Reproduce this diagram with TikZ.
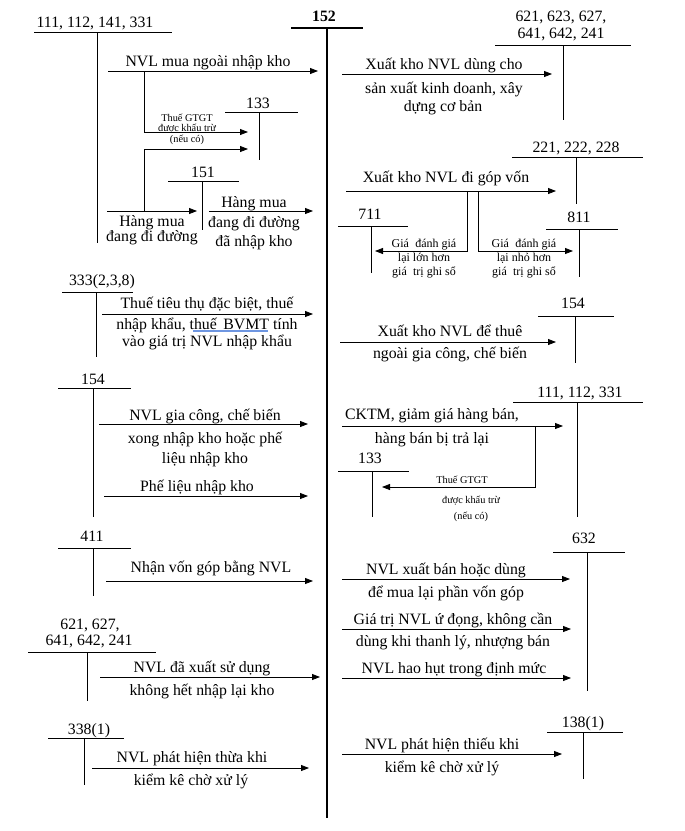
\documentclass[tikz,border=0pt]{standalone}
\usepackage{fontspec}
\setmainfont{Liberation Serif}
\usetikzlibrary{arrows.meta}
\newcommand\fmain{\fontsize{15.8}{18}\selectfont}
\newcommand\fsmall{\fontsize{10.3}{12}\selectfont}
\newcommand\fmid{\fontsize{12}{14}\selectfont}
\newcommand\tacc[6]{%
  \coordinate (#1l) at (#2,#4); \coordinate (#1r) at (#3,#4);
  \coordinate (#1t) at (#5,#4); \coordinate (#1b) at (#5,#6);
  \draw[acct] (#1l) -- (#1r) (#1t) -- (#1b);}
\begin{document}
\begin{tikzpicture}[x=1pt,y=-1pt,
  acct/.style={line width=0.8pt},
  mainacc/.style={line width=2.6pt},
  flow/.style={line width=0.8pt,-{Triangle[length=8pt,width=6pt]}},
  txt/.style={anchor=base,inner sep=0pt,font=\fmain},
  sm/.style={anchor=base,inner sep=0pt,font=\fsmall},
  md/.style={anchor=base,inner sep=0pt,font=\fmid}]
\useasboundingbox[fill=white] (0,0) rectangle (685,831);

% main account 152
\node[txt] (n152) at (324,21) {\textbf{152}};
\coordinate (m1) at (291,28); \coordinate (m2) at (363,28);
\coordinate (mt) at (327,28); \coordinate (mb) at (327,818);
\draw[mainacc] (m1) -- (m2) (mt) -- (mb);

% ===== LEFT SIDE =====
% 111,112,141,331
\node[txt] (l1) at (95,27) {111, 112, 141, 331};
\tacc{A}{34}{172}{32}{97}{243}
\coordinate (a1s) at (108,71); \coordinate (a1e) at (318,71);
\draw[flow] (a1s) -- (a1e);
\node[txt] (t1) at (208,66) {NVL mua ngoài nhập kho};
% branch to 133
\coordinate (b1) at (144,71); \coordinate (b2) at (144,132); \coordinate (b3) at (248,132);
\draw[flow] (b1) -- (b2) -- (b3);
\node[sm] (s1) at (187,121) {Thuế GTGT};
\node[sm] (s2) at (187,131) {được khấu trừ};
\node[sm] (s3) at (187,142) {(nếu có)};
% 133
\node[txt] (l133) at (258,108) {133};
\tacc{B}{225}{298}{112}{259}{160}
% second branch
\coordinate (c1) at (144,211); \coordinate (c2) at (144,149); \coordinate (c3) at (248,149);
\draw[flow] (c1) -- (c2) -- (c3);
\coordinate (d1) at (107,211); \coordinate (d2) at (197,211);
\draw[flow] (d1) -- (d2);
\node[txt] (t2a) at (152,226) {Hàng mua};
\node[txt] (t2b) at (152,241) {đang đi đường};
% 151
\node[txt] (l151) at (203,177) {151};
\tacc{C}{168}{239}{181}{202}{230}
\coordinate (e1) at (209,211); \coordinate (e2) at (313,211);
\draw[flow] (e1) -- (e2);
\node[txt] (t3a) at (254,207) {Hàng mua};
\node[txt] (t3b) at (254,227) {đang đi đường};
\node[txt] (t3c) at (254,246) {đã nhập kho};

% 333(2,3,8)
\node[txt] (l333) at (102,285) {333(2,3,8)};
\tacc{D}{62}{133}{292}{96}{357}
\coordinate (f1) at (102,314); \coordinate (f2) at (313,314);
\draw[flow] (f1) -- (f2);
\node[txt] (t4a) at (207,308) {Thuế tiêu thụ đặc biệt, thuế};
\node[txt] (t4b) at (207,329) {nhập khẩu, thuế\, BVMT tính};
\node[txt] (t4c) at (207,346) {vào giá trị NVL nhập khẩu};
\coordinate (u1) at (193,331); \coordinate (u2) at (268,331);
\draw[line width=1.3pt,color={rgb,255:red,110;green,150;blue,225}] (u1) -- (u2);

% 154 left
\node[txt] (l154a) at (93,384) {154};
\tacc{E}{58}{131}{388}{93}{517}
\coordinate (g1) at (99,424); \coordinate (g2) at (308,424);
\draw[flow] (g1) -- (g2);
\node[txt] (t5a) at (205,420) {NVL gia công, chế biến};
\node[txt] (t5b) at (205,443) {xong nhập kho hoặc phế};
\node[txt] (t5c) at (205,463) {liệu nhập kho};
\coordinate (h1) at (104,496); \coordinate (h2) at (308,496);
\draw[flow] (h1) -- (h2);
\node[txt] (t6) at (197,491) {Phế liệu nhập kho};

% 411
\node[txt] (l411) at (92,541) {411};
\tacc{F}{58}{131}{548}{93}{596}
\coordinate (i1) at (106,581); \coordinate (i2) at (313,581);
\draw[flow] (i1) -- (i2);
\node[txt] (t7) at (211,572) {Nhận vốn góp bằng NVL};

% 621,627,641,642,241 left
\node[txt] (l621a) at (90,629) {621, 627,};
\node[txt] (l621b) at (89,645) {641, 642, 241};
\tacc{G}{28}{156}{652}{87}{701}
\coordinate (j1) at (100,677); \coordinate (j2) at (320,677);
\draw[flow] (j1) -- (j2);
\node[txt] (t8a) at (202,672) {NVL đã xuất sử dụng};
\node[txt] (t8b) at (202,695) {không hết nhập lại kho};

% 338(1)
\node[txt] (l338) at (89,734) {338(1)};
\tacc{H}{48}{124}{738}{84}{785}
\coordinate (k1) at (92,768); \coordinate (k2) at (309,768);
\draw[flow] (k1) -- (k2);
\node[txt] (t9a) at (192,762) {NVL phát hiện thừa khi};
\node[txt] (t9b) at (191,785) {kiểm kê chờ xử lý};

% ===== RIGHT SIDE =====
% 621,623,627,641,642,241
\node[txt] (r621a) at (561,21) {621, 623, 627,};
\node[txt] (r621b) at (561,38) {641, 642, 241};
\tacc{P}{495}{631}{45}{563}{120}
\coordinate (p1) at (342,74); \coordinate (p2) at (552,74);
\draw[flow] (p1) -- (p2);
\node[txt] (r1a) at (444,69) {Xuất kho NVL dùng cho};
\node[txt] (r1b) at (444,93) {sản xuất kinh doanh, xây};
\node[txt] (r1c) at (443,111) {dựng cơ bản};

% 221,222,228
\node[txt] (r221) at (576,152) {221, 222, 228};
\tacc{Q}{512}{643}{157}{576}{204}
\coordinate (q1) at (346,191); \coordinate (q2) at (556,191);
\draw[flow] (q1) -- (q2);
\node[txt] (r2) at (446,182) {Xuất kho NVL đi góp vốn};
\coordinate (q3) at (467,191); \coordinate (q4) at (467,251); \coordinate (q5) at (375,251);
\draw[flow] (q3) -- (q4) -- (q5);
\coordinate (q6) at (478,191); \coordinate (q7) at (478,251); \coordinate (q8) at (573,251);
\draw[flow] (q6) -- (q7) -- (q8);
% 711
\node[txt] (r711) at (370,219) {711};
\tacc{R}{338}{408}{226}{371}{273}
% 811
\node[txt] (r811) at (579,222) {811};
\tacc{S}{546}{618}{229}{579}{277}
\node[md] (r3a) at (424,247) {Giá\; đánh giá};
\node[md] (r3b) at (424,261) {lại lớn hơn};
\node[md] (r3c) at (424,275) {giá\; trị ghi sổ};
\node[md] (r4a) at (524,247) {Giá\; đánh giá};
\node[md] (r4b) at (524,261) {lại nhỏ hơn};
\node[md] (r4c) at (524,275) {giá\; trị ghi sổ};

% 154 right
\node[txt] (r154) at (573,308) {154};
\tacc{T}{538}{614}{316}{575}{363}
\coordinate (v1) at (340,342); \coordinate (v2) at (556,342);
\draw[flow] (v1) -- (v2);
\node[txt] (r5a) at (450,336) {Xuất kho NVL để thuê};
\node[txt] (r5b) at (450,358) {ngoài gia công, chế biến};

% 111,112,331 right
\node[txt] (r111) at (580,397) {111, 112, 331};
\tacc{U}{513}{643}{402}{577}{517}
\coordinate (w1) at (342,426); \coordinate (w2) at (563,426);
\draw[flow] (w1) -- (w2);
\node[txt] (r6a) at (432,419) {CKTM, giảm giá hàng bán,};
\node[txt] (r6b) at (432,443) {hàng bán bị trả lại};
\coordinate (w3) at (535,426); \coordinate (w4) at (535,487); \coordinate (w5) at (382,487);
\draw[flow] (w3) -- (w4) -- (w5);
% 133 right
\node[txt] (r133) at (370,463) {133};
\tacc{V}{338}{409}{471}{372}{517}
\node[sm] (r7a) at (462,483) {Thuế GTGT};
\node[sm] (r7b) at (471,503) {được khấu trừ};
\node[sm] (r7c) at (471,519) {(nếu có)};

% 632
\node[txt] (r632) at (584,543) {632};
\tacc{W}{553}{625}{552}{587}{691}
\coordinate (x1) at (342,579); \coordinate (x2) at (570,579);
\draw[flow] (x1) -- (x2);
\node[txt] (r8a) at (446,574) {NVL xuất bán hoặc dùng};
\node[txt] (r8b) at (446,597) {để mua lại phần vốn góp};
\coordinate (x3) at (342,629); \coordinate (x4) at (571,629);
\draw[flow] (x3) -- (x4);
\node[txt] (r9a) at (453,624) {Giá trị NVL ứ đọng, không cần};
\node[txt] (r9b) at (453,646) {dùng khi thanh lý, nhượng bán};
\coordinate (x5) at (342,678); \coordinate (x6) at (571,678);
\draw[flow] (x5) -- (x6);
\node[txt] (r10) at (454,673) {NVL hao hụt trong định mức};

% 138(1)
\node[txt] (r138) at (583,727) {138(1)};
\tacc{X}{547}{623}{732}{583}{779}
\coordinate (y1) at (342,754); \coordinate (y2) at (562,754);
\draw[flow] (y1) -- (y2);
\node[txt] (r11a) at (442,749) {NVL phát hiện thiếu khi};
\node[txt] (r11b) at (442,772) {kiểm kê chờ xử lý};
\end{tikzpicture}
\end{document}
